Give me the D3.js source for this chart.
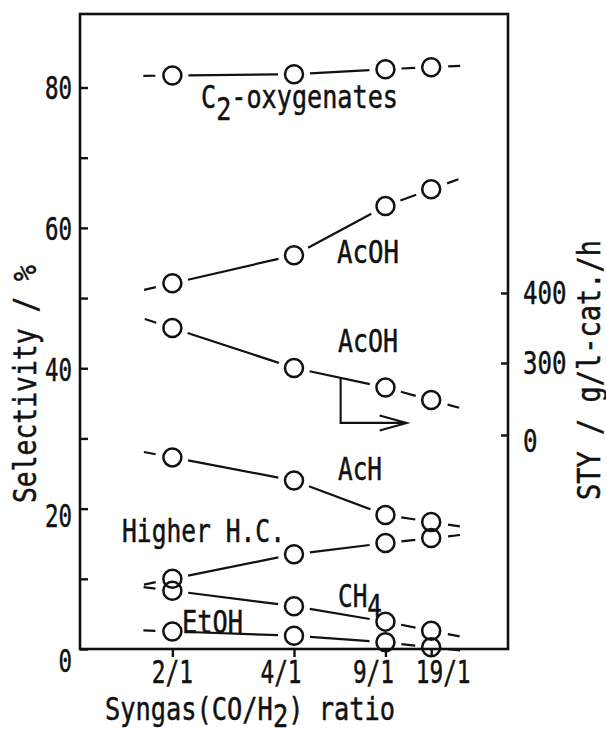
<!DOCTYPE html>
<html>
<head>
<meta charset="utf-8">
<script src="https://cdn.jsdelivr.net/npm/d3@7"></script>
<style>
  body { margin: 0; background: #fff; }
</style>
</head>
<body>
<script>
// categories: CO/H2 ratio and the CO fraction the x axis is drawn on
const ratios = ["2/1", "4/1", "9/1", "19/1"]
const coFraction = [0.667, 0.8, 0.9, 0.95]

// selectivity (%), left axis
const c2Oxygenates = [81.7, 81.9, 82.6, 82.9]
const acohSelectivity = [52.1, 56.1, 63.1, 65.5]
const achSelectivity = [27.3, 24.0, 19.1, 18.1]
const higherHC = [10.0, 13.5, 15.1, 15.8]
const ch4Selectivity = [8.3, 6.1, 3.9, 2.6]
const etohSelectivity = [2.5, 1.9, 0.95, 0.25]

// AcOH space time yield (g/l-cat./h), right axis
const acohSty = [350, 293, 265, 247]

const leftTicks = [0, 10, 20, 30, 40, 50, 60, 70, 80]
const leftLabels = [0, 20, 40, 60, 80]
const rightTicks = [0, 300, 400]

const width = 606, height = 731
const frame = {left: 80, right: 508, top: 14, bottom: 649}
const font = "DejaVu Sans Mono"
const fontSize = 31.5

const svg = d3.select("body").append("svg")
  .attr("width", width)
  .attr("height", height)

const x = d3.scaleLinear().domain([0.566, 1.034]).range([frame.left, frame.right])
const y = d3.scaleLinear().domain([0, 80]).range([frame.bottom, 87.5])
// right axis is broken between 0 and 200
const yRight = d3.scaleLinear().domain([0, 200, 400]).range([435, 433, 293])

// text helper - squeeze the mono font to the narrow typewriter look
function addText(parent, px, py, parts, len, opts = {}) {
  const t = parent.append("text")
    .attr("x", px).attr("y", py)
    .attr("font-family", font)
    .attr("font-size", opts.size || fontSize)
    .attr("fill", "#111")
    .attr("stroke", "#111")
    .attr("stroke-width", 0.5)
    .attr("text-anchor", opts.anchor || "start")
    .attr("textLength", len)
    .attr("lengthAdjust", "spacingAndGlyphs")
  if (opts.rotate) t.attr("transform", `rotate(-90 ${px} ${py})`)
  parts.forEach(p => {
    if (typeof p === "string") { t.append("tspan").text(p) }
    else { t.append("tspan").attr("dy", p.dy).text(p.text) }
  })
  return t
}

// frame
svg.append("rect")
  .attr("x", frame.left).attr("y", frame.top)
  .attr("width", frame.right - frame.left)
  .attr("height", frame.bottom - frame.top)
  .attr("fill", "none")
  .attr("stroke", "#111")
  .attr("stroke-width", 2.6)

// ticks via d3 axes
const axisStyle = g => {
  g.select(".domain").remove()
  g.selectAll("line").attr("stroke", "#111").attr("stroke-width", 2.4)
  g.selectAll("text").remove()
}
svg.append("g")
  .attr("transform", `translate(${frame.left},0)`)
  .call(d3.axisLeft(y).tickValues(leftTicks).tickSize(-8))
  .call(axisStyle)
svg.append("g")
  .attr("transform", `translate(${frame.right},0)`)
  .call(d3.axisRight(yRight).tickValues(rightTicks).tickSize(-7))
  .call(axisStyle)
svg.append("g")
  .attr("transform", `translate(0,${frame.bottom})`)
  .call(d3.axisBottom(x).tickValues(coFraction).tickSize(8))
  .call(axisStyle)

// tick labels
const leftShift = {0: 12, 20: 7, 40: 2, 60: 1, 80: 0}
leftLabels.forEach(v => {
  addText(svg, 72, y(v) + 11 + leftShift[v], [String(v)], String(v).length * 13.5, {anchor: "end"})
})
rightTicks.forEach(v => {
  addText(svg, 523, yRight(v) + 11 + (v === 0 ? 6 : 0), [String(v)], String(v).length * 14.5)
})
const ratioShift = [0, -13, -12, 12]
ratios.forEach((r, i) => {
  addText(svg, x(coFraction[i]) + ratioShift[i], 683, [r], r.length * 13.7, {anchor: "middle"})
})

// axis titles
addText(svg, 105, 720, ["Syngas(CO/H", {text: "2", dy: 7}, {text: ") ratio", dy: -7}], 290)
addText(svg, 36, 503, ["Selectivity / %"], 238, {rotate: true})
addText(svg, 600, 500, ["STY / g/l-cat./h"], 260, {rotate: true})

// series
const series = [
  {values: c2Oxygenates, scale: y},
  {values: acohSelectivity, scale: y},
  {values: acohSty, scale: yRight},
  {values: achSelectivity, scale: y},
  {values: higherHC, scale: y},
  {values: ch4Selectivity, scale: y},
  {values: etohSelectivity, scale: y}
]

const r = 9
const gap = 16
const stubLen = 13

const marks = svg.append("g")

series.forEach(s => {
  const pts = s.values.map((v, i) => [x(coFraction[i]), s.scale(v)])

  // segments between circles, leaving a gap at each circle
  const segs = []
  for (let i = 0; i < pts.length - 1; i++) {
    const [x0, y0] = pts[i], [x1, y1] = pts[i + 1]
    const len = Math.hypot(x1 - x0, y1 - y0)
    const ux = (x1 - x0) / len, uy = (y1 - y0) / len
    segs.push([x0 + ux * gap, y0 + uy * gap, x1 - ux * gap, y1 - uy * gap])
  }
  // short dashes sticking out past the end circles
  const first = segs[0], last = segs[segs.length - 1]
  const fdx = first[2] - first[0], fdy = first[3] - first[1]
  const fl = Math.hypot(fdx, fdy)
  const [sx, sy] = pts[0]
  segs.push([sx - fdx / fl * (gap + 1), sy - fdy / fl * (gap + 1),
             sx - fdx / fl * (gap + stubLen), sy - fdy / fl * (gap + stubLen)])
  const ldx = last[2] - last[0], ldy = last[3] - last[1]
  const ll = Math.hypot(ldx, ldy)
  const [ex, ey] = pts[pts.length - 1]
  segs.push([ex + ldx / ll * (gap + 1), ey + ldy / ll * (gap + 1),
             ex + ldx / ll * (gap + stubLen), ey + ldy / ll * (gap + stubLen)])

  marks.append("g").selectAll("line").data(segs)
    .join("line")
    .attr("x1", d => d[0]).attr("y1", d => d[1])
    .attr("x2", d => d[2]).attr("y2", d => d[3])
    .attr("stroke", "#111")
    .attr("stroke-width", 2.2)

  marks.append("g").selectAll("circle").data(pts)
    .join("circle")
    .attr("cx", d => d[0]).attr("cy", d => d[1])
    .attr("r", r)
    .attr("fill", "none")
    .attr("stroke", "#111")
    .attr("stroke-width", 2.5)
})

// arrow telling which AcOH line goes with the right axis
const ax = x(0.851)
const t = (0.851 - coFraction[1]) / (coFraction[2] - coFraction[1])
const ay = yRight(acohSty[1]) + t * (yRight(acohSty[2]) - yRight(acohSty[1]))
const arrowY = ay + 45, tipX = ax + 66
svg.append("path")
  .attr("d", `M${ax},${ay} V${arrowY} H${tipX} M${tipX - 27},${arrowY - 7.5} L${tipX},${arrowY} L${tipX - 27},${arrowY + 7.5}`)
  .attr("fill", "none")
  .attr("stroke", "#111")
  .attr("stroke-width", 2.1)

// series labels
addText(svg, 201, 108, ["C", {text: "2", dy: 12}, {text: "-oxygenates", dy: -12}], 197)
addText(svg, 337, 263, ["AcOH"], 62)
addText(svg, 338, 352, ["AcOH"], 60)
addText(svg, 338, 480, ["AcH"], 44)
addText(svg, 122, 542, ["Higher H.C."], 163)
addText(svg, 338, 607, ["CH", {text: "4", dy: 10}], 44)
addText(svg, 182, 633, ["EtOH"], 61)
</script>
</body>
</html>
